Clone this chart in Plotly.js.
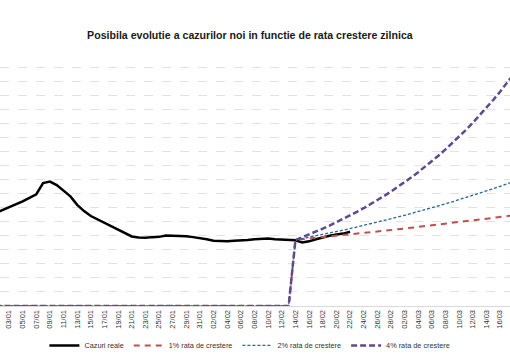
<!DOCTYPE html>
<html>
<head>
<meta charset="utf-8">
<script src="https://cdn.plot.ly/plotly-3.0.1.min.js"></script>
<style>html,body{margin:0;padding:0;background:#fff;}#chart{width:510px;height:360px;}</style>
</head>
<body>
<div id="chart"></div>
<script>
// Real cases, daily from 2021-01-01 to 2021-02-22
const realStart = '2021-01-01';
const realCases = [
  6600, 6800, 7000, 7200, 7450, 7700, 7950, 8750, 8850, 8600,
  8200, 7800, 7200, 6750, 6400, 6150, 5950, 5700, 5400, 5150,
  4950, 4870, 4850, 4900, 4920, 5020, 5020, 5000, 4970, 4900,
  4850, 4750, 4650, 4600, 4600, 4650, 4650, 4700, 4750, 4780,
  4800, 4750, 4720, 4700, 4680, 4520, 4600, 4750, 4900, 5000,
  5080, 5150, 5280
];
// Projections, daily from 2021-01-01 to 2021-03-18 (zero before 14/02)
const projZeros = [
  0,0,0,0,0,0,0,0,0,0, 0,0,0,0,0,0,0,0,0,0,
  0,0,0,0,0,0,0,0,0,0, 0,0,0,0,0,0,0,0,0,0,
  0,0,0,0
];
const growth1 = [4700,4747,4794,4842,4891,4940,4989,5039,5089,5140,5192,5244,5296,5349,5403,5457,5511,5566,5622,5678,5735,5792,5850,5909,5968,6027,6088,6149,6210,6272,6335,6398,6462];
const growth2 = [4700,4794,4890,4988,5087,5189,5293,5399,5507,5617,5729,5844,5961,6080,6202,6326,6452,6581,6713,6847,6984,7124,7266,7411,7560,7711,7865,8022,8183,8346,8513,8684,8857];
const growth4 = [4700,4888,5084,5287,5498,5718,5947,6185,6432,6690,6957,7235,7525,7826,8139,8464,8803,9155,9521,9902,10298,10710,11139,11584,12048,12529,13031,13552,14094,14658,15244,15854,16488];
const seriesNames = ['Cazuri reale', '1% rata de crestere', '2% rata de crestere', '4% rata de crestere'];
const titleText = 'Posibila evolutie a cazurilor noi in functie de rata crestere zilnica';

function dates(start, n) {
  const out = [];
  const d0 = new Date(start + 'T00:00:00Z');
  for (let i = 0; i < n; i++) {
    const d = new Date(d0.getTime() + i * 86400000);
    out.push(d.toISOString().slice(0, 10));
  }
  return out;
}
const p1 = projZeros.concat(growth1);
const p2 = projZeros.concat(growth2);
const p4 = projZeros.concat(growth4);
const xReal = dates(realStart, realCases.length);
const xProj = dates(realStart, p1.length);

const traces = [
  {x: xReal, y: realCases, name: seriesNames[0], mode: 'lines', line: {color: '#000000', width: 2.5}},
  {x: xProj, y: p1, name: seriesNames[1], mode: 'lines', line: {color: '#c0504d', width: 2, dash: '6px,5px'}},
  {x: xProj, y: p2, name: seriesNames[2], mode: 'lines', line: {color: '#2a6496', width: 1.3, dash: '3px,2px'}},
  {x: xProj, y: p4, name: seriesNames[3], mode: 'lines', line: {color: '#5f4b8b', width: 2.5, dash: '6px,3px'}}
];
const font = 'Liberation Sans, Arial, sans-serif';
const layout = {
  width: 510, height: 360,
  margin: {l: 0, r: 0, t: 53, b: 51},
  paper_bgcolor: '#ffffff', plot_bgcolor: '#ffffff',
  font: {family: font, color: '#404040'},
  title: {text: '<b>' + titleText + '</b>', x: 0.49, xanchor: 'center', y: 0.903, yanchor: 'middle',
          font: {family: font, size: 10.6, color: '#1a1a1a'}},
  showlegend: true,
  legend: {orientation: 'h', x: 0.49, xanchor: 'center', y: -0.156, yanchor: 'middle',
           font: {family: font, size: 7.3, color: '#333333'}, itemwidth: 30, traceorder: 'normal'},
  xaxis: {type: 'date', range: ['2021-01-01 16:19', '2021-03-17 11:00'],
          tick0: '2021-01-03', dtick: 2 * 86400000, tickformat: '%d/%m', tickangle: -90,
          tickfont: {family: font, size: 7.5, color: '#333333'}, showgrid: false,
          showline: true, linecolor: '#d9d9d9', ticks: '', zeroline: false, fixedrange: true},
  yaxis: {range: [0, 18000], dtick: 1000, showticklabels: false, showgrid: true,
          gridcolor: '#e2e2e2', griddash: 'dash', gridwidth: 1, zeroline: false, ticks: '', fixedrange: true}
};
Plotly.newPlot('chart', traces, layout, {displayModeBar: false, staticPlot: true});
</script>
</body>
</html>
